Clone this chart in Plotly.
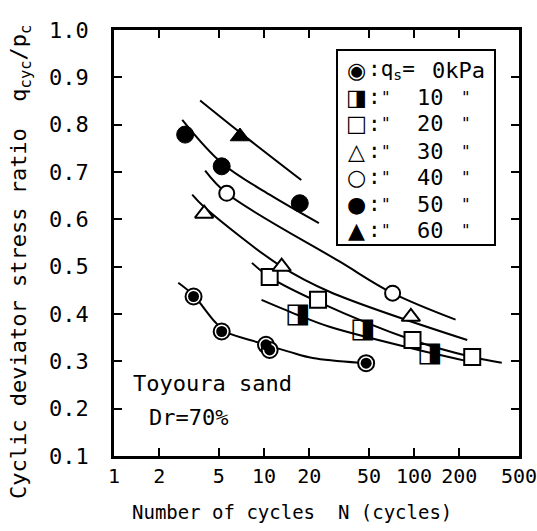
import plotly.graph_objects as go

# ---- measured points (N cycles, q_cyc/p_c) ----
N_q0 = [3.39, 5.22, 10.3, 10.9, 47.9]
R_q0 = [0.437, 0.363, 0.335, 0.324, 0.296]
N_q10 = [16.8, 45.5, 127]
R_q10 = [0.398, 0.366, 0.315]
N_q20 = [10.9, 22.9, 97.6, 244]
R_q20 = [0.478, 0.430, 0.345, 0.309]
N_q30 = [3.99, 13.1, 95.2]
R_q30 = [0.612, 0.500, 0.394]
N_q40 = [5.64, 71.9]
R_q40 = [0.655, 0.444]
N_q50 = [2.98, 5.22, 17.3]
R_q50 = [0.779, 0.712, 0.634]
N_q60 = [6.91]
R_q60 = [0.775]

# ---- fitted curves ----
CN_q0 = [2.68, 3.37, 4.72, 5.58, 9.38, 14.8, 21.1, 43.2]
CR_q0 = [0.466, 0.440, 0.383, 0.362, 0.339, 0.320, 0.307, 0.297]
CN_q10 = [9.62, 16.8, 27.3, 128, 222]
CR_q10 = [0.430, 0.398, 0.373, 0.318, 0.301]
CN_q20 = [8.30, 10.9, 22.8, 97.3, 244, 384]
CR_q20 = [0.508, 0.478, 0.426, 0.345, 0.309, 0.297]
CN_q30 = [3.32, 3.99, 13.1, 27.3, 226]
CR_q30 = [0.652, 0.626, 0.500, 0.447, 0.345]
CN_q40 = [4.05, 5.64, 31.8, 71.9, 189]
CR_q40 = [0.703, 0.655, 0.511, 0.444, 0.388]
CN_q50 = [2.85, 5.22, 10.9, 23.2]
CR_q50 = [0.810, 0.719, 0.652, 0.592]
CN_q60 = [3.75, 7.07, 17.7]
CR_q60 = [0.851, 0.781, 0.683]

# ---- legend / ticks ----
QS = [0, 10, 20, 30, 40, 50, 60]
LEG_SYM = ["◉", "◨", "□", "△", "○", "●", "▲"]
X_TICKS = [1, 2, 5, 10, 20, 50, 100, 200, 500]
X_TICKTEXT = ["1", "2", "5", "10", "20", "50", "100", "200", "500"]
Y_TICKS = [0.1, 0.2, 0.3, 0.4, 0.5, 0.6, 0.7, 0.8, 0.9, 1.0]
Y_TICKTEXT = ["0.1", "0.2", "0.3", "0.4", "0.5", "0.6", "0.7", "0.8", "0.9", "1.0"]

W, H = 537, 531
ML, MR, MT, MB = 114, 18, 30, 75
PW, PH = W - ML - MR, H - MT - MB
MONO = "DejaVu Sans Mono"
SYMF = "DejaVu Sans"


def px(xp):
    return (xp - ML) / PW


def py(yp):
    return (H - MB - yp) / PH


fig = go.Figure()

for cn, cr in [(CN_q0, CR_q0), (CN_q10, CR_q10), (CN_q20, CR_q20), (CN_q30, CR_q30),
               (CN_q40, CR_q40), (CN_q50, CR_q50), (CN_q60, CR_q60)]:
    fig.add_trace(go.Scatter(x=cn, y=cr, mode="lines",
                             line=dict(color="black", width=2, shape="spline", smoothing=1.0),
                             showlegend=False, hoverinfo="skip"))

# qs = 0: circle with black disc
fig.add_trace(go.Scatter(x=N_q0, y=R_q0, mode="markers",
                         marker=dict(symbol="circle", size=16, color="white", line=dict(color="black", width=2)),
                         showlegend=False))
fig.add_trace(go.Scatter(x=N_q0, y=R_q0, mode="markers",
                         marker=dict(symbol="circle", size=11, color="black", line=dict(width=0)),
                         showlegend=False))
# qs = 10: half-filled square
fig.add_trace(go.Scatter(x=N_q10, y=R_q10, mode="text", text=["◨"] * len(N_q10),
                         textposition="middle center", textfont=dict(family=SYMF, size=27, color="black"),
                         showlegend=False))
# qs = 20: open square
fig.add_trace(go.Scatter(x=N_q20, y=R_q20, mode="markers",
                         marker=dict(symbol="square", size=16, color="white", line=dict(color="black", width=2)),
                         showlegend=False))
# qs = 30: open triangle
fig.add_trace(go.Scatter(x=N_q30, y=R_q30, mode="markers",
                         marker=dict(symbol="triangle-up", size=16, color="white", line=dict(color="black", width=2)),
                         showlegend=False))
# qs = 40: open circle
fig.add_trace(go.Scatter(x=N_q40, y=R_q40, mode="markers",
                         marker=dict(symbol="circle", size=15, color="white", line=dict(color="black", width=2)),
                         showlegend=False))
# qs = 50: filled circle
fig.add_trace(go.Scatter(x=N_q50, y=R_q50, mode="markers",
                         marker=dict(symbol="circle", size=17, color="black", line=dict(color="black", width=1)),
                         showlegend=False))
# qs = 60: filled triangle
fig.add_trace(go.Scatter(x=N_q60, y=R_q60, mode="markers",
                         marker=dict(symbol="triangle-up", size=17, color="black", line=dict(color="black", width=1)),
                         showlegend=False))

ann = []
# axis titles
ann.append(dict(x=px(20), y=py(262), xref="paper", yref="paper", showarrow=False, textangle=-90,
                text="Cyclic deviator stress ratio  q<sub>cyc</sub>/p<sub>c</sub>",
                font=dict(family=MONO, size=22, color="black"), xanchor="center", yanchor="middle"))
ann.append(dict(x=px(292), y=py(512), xref="paper", yref="paper", showarrow=False,
                text="Number of cycles  N (cycles)",
                font=dict(family=MONO, size=19, color="black"), xanchor="center", yanchor="middle"))
# in-plot texts
ann.append(dict(x=px(131), y=py(383), xref="paper", yref="paper", showarrow=False, text="Toyoura sand",
                font=dict(family=MONO, size=22, color="black"), xanchor="left", yanchor="middle"))
ann.append(dict(x=px(147), y=py(417), xref="paper", yref="paper", showarrow=False, text="Dr=70%",
                font=dict(family=MONO, size=22, color="black"), xanchor="left", yanchor="middle"))

# custom legend
row_y = [70, 97, 124, 151, 177, 204, 230]
for i, (q, s) in enumerate(zip(QS, LEG_SYM)):
    yy = py(row_y[i])
    ann.append(dict(x=px(356), y=yy, xref="paper", yref="paper", showarrow=False, text=s,
                    font=dict(family=SYMF, size=22, color="black"), xanchor="center", yanchor="middle"))
    if i == 0:
        ann.append(dict(x=px(366), y=yy, xref="paper", yref="paper", showarrow=False,
                        text=":q<sub>s</sub>=", font=dict(family=MONO, size=21, color="black"),
                        xanchor="left", yanchor="middle"))
        ann.append(dict(x=px(487), y=yy, xref="paper", yref="paper", showarrow=False,
                        text=f"{q}kPa", font=dict(family=MONO, size=22, color="black"),
                        xanchor="right", yanchor="middle"))
    else:
        ann.append(dict(x=px(366), y=yy, xref="paper", yref="paper", showarrow=False,
                        text=':', font=dict(family=MONO, size=21, color="black"),
                        xanchor="left", yanchor="middle"))
        ann.append(dict(x=px(386), y=yy, xref="paper", yref="paper", showarrow=False,
                        text='"', font=dict(family=MONO, size=16, color="black"),
                        xanchor="center", yanchor="middle"))
        ann.append(dict(x=px(446), y=yy, xref="paper", yref="paper", showarrow=False,
                        text=str(q), font=dict(family=MONO, size=22, color="black"),
                        xanchor="right", yanchor="middle"))
        ann.append(dict(x=px(466), y=yy, xref="paper", yref="paper", showarrow=False,
                        text='"', font=dict(family=MONO, size=16, color="black"),
                        xanchor="center", yanchor="middle"))

shapes = [dict(type="rect", xref="paper", yref="paper", x0=px(337), x1=px(495), y0=py(245), y1=py(50),
               line=dict(color="black", width=2), fillcolor="white", layer="below")]

fig.update_layout(
    width=W, height=H, margin=dict(l=ML, r=MR, t=MT, b=MB, autoexpand=False),
    paper_bgcolor="white", plot_bgcolor="white",
    annotations=ann, shapes=shapes, showlegend=False,
    font=dict(family=MONO, color="black"),
)
fig.update_xaxes(type="log", range=[0, 2.6991], tickvals=X_TICKS, ticktext=X_TICKTEXT,
                 showgrid=False, zeroline=False, showline=True, linecolor="black", linewidth=2.5,
                 mirror="ticks", ticks="inside", ticklen=8, tickwidth=2, tickcolor="black",
                 tickfont=dict(family=MONO, size=20, color="black"), ticklabelstandoff=0,
                 ticklabeloverflow="allow", automargin=False)
fig.update_yaxes(range=[0.1, 1.0], tickvals=Y_TICKS, ticktext=Y_TICKTEXT,
                 showgrid=False, zeroline=False, showline=True, linecolor="black", linewidth=2.5,
                 mirror="ticks", ticks="inside", ticklen=8, tickwidth=2, tickcolor="black",
                 tickfont=dict(family=MONO, size=22, color="black"), ticklabelstandoff=18,
                 ticklabeloverflow="allow", automargin=False)

fig.write_html("out.html")
